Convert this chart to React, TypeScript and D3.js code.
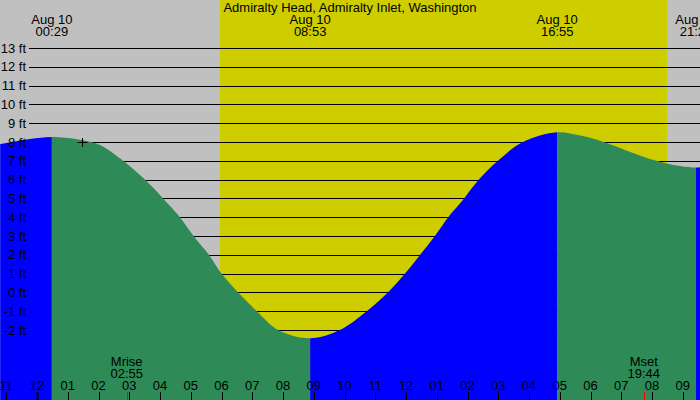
import React, { useEffect, useRef } from 'react';
import * as d3 from 'd3';

// tide heights (hours after midnight Aug 10, feet)
const tideHours = [-1.2, -0.23, 0.483, 1.46, 2.05, 2.8, 3.51, 4.1, 4.65, 5.09, 5.59, 6.0, 6.54, 7.15, 7.84, 8.883,
  9.85, 10.72, 11.41, 11.97, 12.46, 12.94, 13.37, 13.89, 14.37, 14.99, 15.8, 16.917, 17.66, 18.31, 19.93, 20.91, 21.43, 21.6];
const tideFeet = [7.89, 8.16, 8.27, 8.11, 7.84, 7.0, 6.0, 5.0, 4.0, 3.0, 2.0, 1.0, 0.0, -1.0, -2.0, -2.44,
  -2.0, -1.0, 0.0, 1.0, 2.0, 3.0, 4.0, 5.0, 6.0, 7.0, 8.0, 8.52, 8.34, 8.07, 7.1, 6.72, 6.64, 6.66];

// high / low tides
const extremeHours = [0.483, 8.883, 16.917, 21.43];
const extremeDates = ['Aug 10', 'Aug 10', 'Aug 10', 'Aug 10'];
const extremeTimes = ['00:29', '08:53', '16:55', '21:26'];

const sunrise = 5.95;
const sunset = 20.49;

const moonHours = [2.917, 19.733];
const moonNames = ['Mrise', 'Mset'];
const moonTimes = ['02:55', '19:44'];

const feetTicks = [13, 12, 11, 10, 9, 8, 7, 6, 5, 4, 3, 2, 1, 0, -1, -2];
const hourTicks = [-1, 0, 1, 2, 3, 4, 5, 6, 7, 8, 9, 10, 11, 12, 13, 14, 15, 16, 17, 18, 19, 20, 21];
const hourLabels = ['11', '12', '01', '02', '03', '04', '05', '06', '07', '08', '09', '10',
  '11', '12', '01', '02', '03', '04', '05', '06', '07', '08', '09'];

const marker = { hour: 1.46, feet: 8 };

const title = 'Admiralty Head, Admiralty Inlet, Washington';

function drawTide(svgRef: React.RefObject<SVGSVGElement>) {
    const svg = d3.select(svgRef.current);
    svg.selectAll('*').remove();

    const w = 700;
    const h = 400;
    const font = '"Liberation Sans", Arial, sans-serif';

    const x = d3.scaleLinear().domain([0, 24]).range([37, 775]);
    const y = d3.scaleLinear().domain([0, 13]).range([292.4, 48]);

    svg.attr('width', w).attr('height', h);

    svg.append('rect').attr('width', w).attr('height', h).attr('fill', '#c0c0c0');
    svg.append('rect')
        .attr('x', x(sunrise)).attr('y', 0)
        .attr('width', x(sunset) - x(sunrise)).attr('height', h)
        .attr('fill', '#cdcd00');

    // grid lines
    svg.append('g').selectAll('line').data(feetTicks).join('line')
        .attr('x1', 29).attr('x2', w)
        .attr('y1', d => Math.round(y(d)) + 0.5).attr('y2', d => Math.round(y(d)) + 0.5)
        .attr('stroke', '#000').attr('stroke-width', 1);

    const pts: [number, number][] = tideHours.map((t, i) => [t, tideFeet[i]]);
    const area = d3.area<[number, number]>()
        .x(d => x(d[0]))
        .y0(h)
        .y1(d => y(d[1]))
        .curve(d3.curveCatmullRom.alpha(0.5));

    // rising = blue, falling = green
    const bounds = [tideHours[0], ...extremeHours, tideHours[tideHours.length - 1]];
    const defs = svg.append('defs');
    for (let i = 0; i < bounds.length - 1; i++) {
        const id = 'seg' + i;
        defs.append('clipPath').attr('id', id)
            .append('rect')
            .attr('x', x(bounds[i])).attr('y', 0)
            .attr('width', x(bounds[i + 1]) - x(bounds[i])).attr('height', h);
        svg.append('path')
            .attr('d', area(pts))
            .attr('clip-path', `url(#${id})`)
            .attr('fill', i % 2 === 0 ? '#0000ff' : '#2e8b57');
    }

    // y labels
    svg.append('g').selectAll('text').data(feetTicks).join('text')
        .attr('x', 26).attr('y', d => y(d) + 4.5)
        .attr('text-anchor', 'end')
        .attr('font-family', font).attr('font-size', 13)
        .text(d => `${d} ft`);

    // extremes labels
    const ex = svg.append('g').attr('font-family', font).attr('font-size', 13).attr('text-anchor', 'middle');
    extremeHours.forEach((t, i) => {
        ex.append('text').attr('x', x(t)).attr('y', 24).text(extremeDates[i]);
        ex.append('text').attr('x', x(t)).attr('y', 36).text(extremeTimes[i]);
    });

    svg.append('text')
        .attr('x', w / 2).attr('y', 12)
        .attr('text-anchor', 'middle')
        .attr('font-family', font).attr('font-size', 13)
        .text(title);

    // hour axis
    const ax = svg.append('g').attr('font-family', font).attr('font-size', 13).attr('text-anchor', 'middle');
    hourTicks.forEach((t, i) => {
        const px = Math.round(x(t));
        ax.append('line')
            .attr('x1', px + 0.5).attr('x2', px + 0.5)
            .attr('y1', 392).attr('y2', h)
            .attr('stroke', '#000')
            .attr('stroke-width', t === 0 ? 2 : 1);
        ax.append('text').attr('x', x(t)).attr('y', 389.5).text(hourLabels[i]);
    });

    // moon
    moonHours.forEach((t, i) => {
        const px = Math.round(x(t));
        ax.append('line')
            .attr('x1', px + 0.5).attr('x2', px + 0.5)
            .attr('y1', 392).attr('y2', h)
            .attr('stroke', '#ff0000');
        ax.append('text').attr('x', x(t)).attr('y', 366).text(moonNames[i]);
        ax.append('text').attr('x', x(t)).attr('y', 378).text(moonTimes[i]);
    });

    // cross marker
    const mx = Math.round(x(marker.hour)) + 0.5;
    const my = Math.round(y(marker.feet)) + 0.5;
    svg.append('path')
        .attr('d', `M${mx - 5},${my}H${mx + 5}M${mx},${my - 4.5}V${my + 4.5}`)
        .attr('stroke', '#000').attr('stroke-width', 1).attr('fill', 'none');
}

const App = () => {
    const svg = useRef<SVGSVGElement>(null);

    useEffect(() => {
        drawTide(svg);
    }, [svg]);

    return (
        <div id="chart">
            <svg ref={svg} style={{ position: 'absolute', left: 0, top: 0 }} />
        </div>
    );
};

export default App;
